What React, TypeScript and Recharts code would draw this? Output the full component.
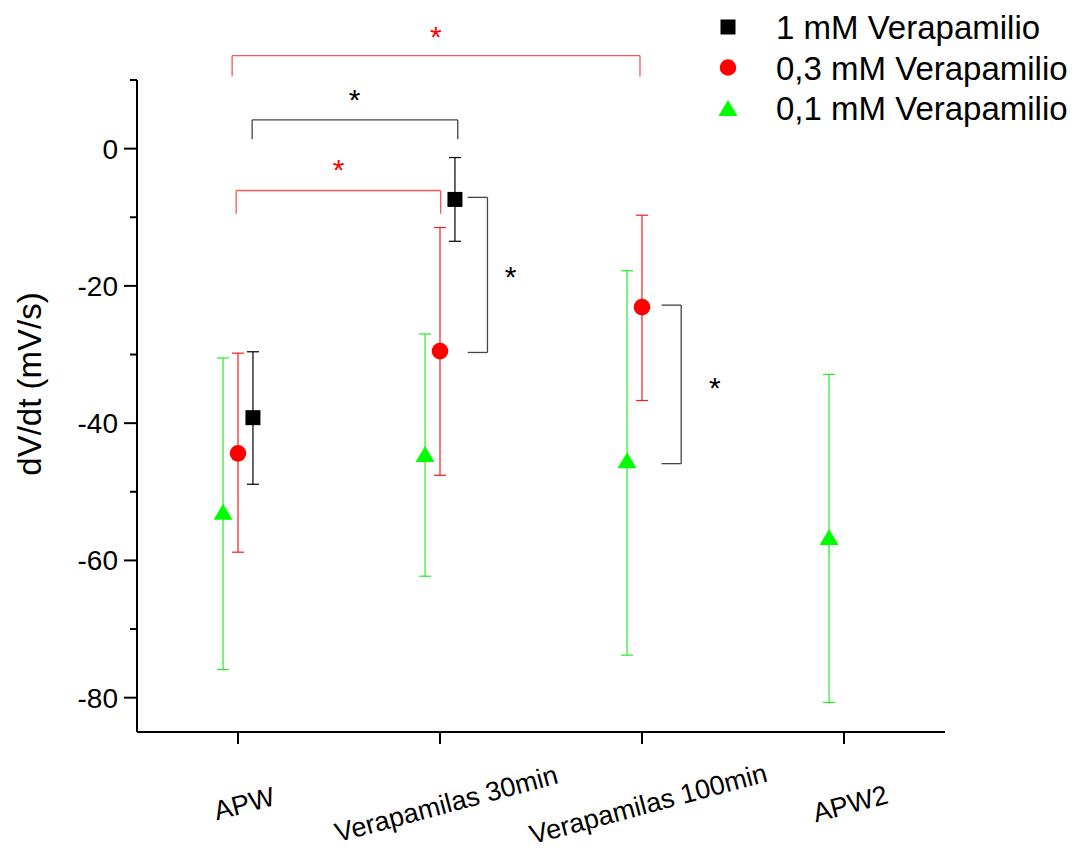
import React from 'react';
import {
  ComposedChart,
  Scatter,
  ErrorBar,
  XAxis,
  YAxis,
  ReferenceLine,
  ReferenceDot,
  Legend
} from 'recharts';

const categories = ['APW', 'Verapamilas 30min', 'Verapamilas 100min', 'APW2'];
const seriesNames = ['1 mM Verapamilio', '0,3 mM Verapamilio', '0,1 mM Verapamilio'];
const xTicks = [1, 2, 3, 4];
const yTicks = [-80, -70, -60, -50, -40, -30, -20, -10, 0, 10];

// 1 mM Verapamilio
const blackPos = [1, 2];
const blackMean = [-39.2, -7.4];
const blackLow = [-48.9, -13.5];
const blackHigh = [-29.6, -1.3];

// 0,3 mM Verapamilio
const redPos = [1, 2, 3];
const redMean = [-44.4, -29.5, -23.1];
const redLow = [-58.8, -47.6, -36.7];
const redHigh = [-29.8, -11.5, -9.7];

// 0,1 mM Verapamilio
const greenPos = [1, 2, 3, 4];
const greenMean = [-52.9, -44.5, -45.4, -56.6];
const greenLow = [-75.9, -62.3, -73.8, -80.7];
const greenHigh = [-30.5, -27.0, -17.8, -32.9];

// significance brackets (polylines in data coords) and their stars
const brackets = [
  { color: '#ff5555', pts: [[0.971, 10.5], [0.971, 13.55], [2.99, 13.55], [2.99, 10.5]] },
  { color: '#444444', pts: [[1.07, 1.35], [1.07, 4.18], [2.088, 4.18], [2.088, 1.35]] },
  { color: '#ff5555', pts: [[0.991, -9.5], [0.991, -6.1], [2.003, -6.1], [2.003, -9.5]] },
  { color: '#444444', pts: [[2.137, -7.1], [2.235, -7.1], [2.235, -29.7], [2.137, -29.7]] },
  { color: '#444444', pts: [[3.097, -22.8], [3.194, -22.8], [3.194, -45.9], [3.097, -45.9]] }
];
const stars = [
  { x: 1.979, y: 17.2, color: '#ff0000' },
  { x: 1.577, y: 8.0, color: '#000000' },
  { x: 1.498, y: -2.2, color: '#ff0000' },
  { x: 2.35, y: -17.8, color: '#000000' },
  { x: 3.361, y: -34.0, color: '#000000' }
];

const SHIFT = 0.074;
const FONT = '"Liberation Sans", Arial, sans-serif';

const makeRows = (pos: number[], mean: number[], low: number[], high: number[], shift: number) =>
  pos.map((p, i) => ({ x: p + shift, y: mean[i], err: [mean[i] - low[i], high[i] - mean[i]] }));

const blackData = makeRows(blackPos, blackMean, blackLow, blackHigh, SHIFT);
const redData = makeRows(redPos, redMean, redLow, redHigh, 0);
const greenData = makeRows(greenPos, greenMean, greenLow, greenHigh, -SHIFT);

const Square = ({ cx, cy }: any) => <rect x={cx - 7.5} y={cy - 7.5} width={15} height={15} fill="#000" />;
const Circle = ({ cx, cy }: any) => <circle cx={cx} cy={cy} r={8.3} fill="#ff0000" />;
const Triangle = ({ cx, cy }: any) => (
  <polygon points={`${cx - 9.5},${cy + 8} ${cx + 9.5},${cy + 8} ${cx},${cy - 8}`} fill="#00ff00" />
);

const YTick = ({ x, y, payload }: any) => {
  const major = payload.value % 20 === 0;
  return (
    <g>
      <line x1={x - (major ? 13 : 7)} x2={x} y1={y} y2={y} stroke="#000" strokeWidth={2} />
      {major && (
        <text x={x - 19} y={y + 10} textAnchor="end" fontSize={28} fontFamily={FONT} fill="#000">
          {payload.value}
        </text>
      )}
    </g>
  );
};

const XTick = ({ x, y, payload }: any) => {
  const label = categories[payload.value - 1];
  const cx = x + 6;
  const cy = y + 71;
  return (
    <g>
      <line x1={x} x2={x} y1={y} y2={y + 12} stroke="#000" strokeWidth={2} />
      <text
        x={cx}
        y={cy + 10}
        textAnchor="middle"
        fontSize={27}
        fontFamily={FONT}
        fill="#000"
        transform={`rotate(-15, ${cx}, ${cy})`}
      >
        {label}
      </text>
    </g>
  );
};

const YLabel = ({ viewBox }: any) => {
  const cx = viewBox.x - 47;
  const cy = viewBox.y + viewBox.height / 2 - 22;
  return (
    <text
      x={cx}
      y={cy + 11}
      textAnchor="middle"
      fontSize={33}
      fontFamily={FONT}
      fill="#000"
      transform={`rotate(-90, ${cx}, ${cy})`}
    >
      dV/dt (mV/s)
    </text>
  );
};

const legendShapes = [Square, Circle, Triangle];

const renderLegend = () => (
  <svg width={380} height={135}>
    {seriesNames.map((name, i) => {
      const Shape = legendShapes[i];
      const cy = 27 + i * 40.5;
      return (
        <g key={name}>
          <Shape cx={28} cy={cy} />
          <text x={76} y={cy + 12} fontSize={33} fontFamily={FONT} fill="#000">
            {name}
          </text>
        </g>
      );
    })}
  </svg>
);

const App: React.FC = () => {
  return (
    <div style={{ position: 'absolute', left: 0, top: 0, width: 1080, height: 854, background: '#fff' }}>
      <ComposedChart width={1080} height={854} margin={{ top: 80, right: 135, left: 77, bottom: 92 }}>
        <XAxis
          type="number"
          dataKey="x"
          domain={[0.5, 4.5]}
          ticks={xTicks}
          interval={0}
          allowDataOverflow
          height={30}
          tickSize={0}
          tickMargin={0}
          tickLine={false}
          axisLine={{ stroke: '#000', strokeWidth: 2 }}
          tick={<XTick />}
        />
        <YAxis
          type="number"
          dataKey="y"
          domain={[-85, 10]}
          ticks={yTicks}
          interval={0}
          allowDataOverflow
          width={60}
          tickSize={0}
          tickMargin={0}
          tickLine={false}
          axisLine={{ stroke: '#000', strokeWidth: 2 }}
          tick={<YTick />}
          label={<YLabel />}
        />
        <Legend
          layout="horizontal"
          verticalAlign="middle"
          align="center"
          wrapperStyle={{ top: 0, left: 700, width: 380, height: 135 }}
          content={renderLegend}
        />

        {brackets.map((b, bi) =>
          b.pts.slice(1).map((p, i) => (
            <ReferenceLine
              key={`b${bi}-${i}`}
              segment={[
                { x: b.pts[i][0], y: b.pts[i][1] },
                { x: p[0], y: p[1] }
              ]}
              stroke={b.color}
              strokeWidth={1.3}
              ifOverflow="visible"
            />
          ))
        )}
        {stars.map((s, i) => (
          <ReferenceDot
            key={`s${i}`}
            x={s.x}
            y={s.y}
            r={0}
            ifOverflow="visible"
            shape={(p: any) => (
              <text x={p.cx} y={p.cy + 16} textAnchor="middle" fontSize={30} fontFamily={FONT} fill={s.color}>
                *
              </text>
            )}
          />
        ))}

        <Scatter name={seriesNames[0]} data={blackData} fill="#000" shape={<Square />} isAnimationActive={false}>
          <ErrorBar dataKey="err" direction="y" width={6} stroke="#000" strokeWidth={1.2} isAnimationActive={false} />
        </Scatter>
        <Scatter name={seriesNames[1]} data={redData} fill="#ff0000" shape={<Circle />} isAnimationActive={false}>
          <ErrorBar dataKey="err" direction="y" width={6} stroke="#ff1a1a" strokeWidth={1.2} isAnimationActive={false} />
        </Scatter>
        <Scatter name={seriesNames[2]} data={greenData} fill="#00ff00" shape={<Triangle />} isAnimationActive={false}>
          <ErrorBar dataKey="err" direction="y" width={6} stroke="#22ee22" strokeWidth={1.2} isAnimationActive={false} />
        </Scatter>
      </ComposedChart>
    </div>
  );
};

export default App;
